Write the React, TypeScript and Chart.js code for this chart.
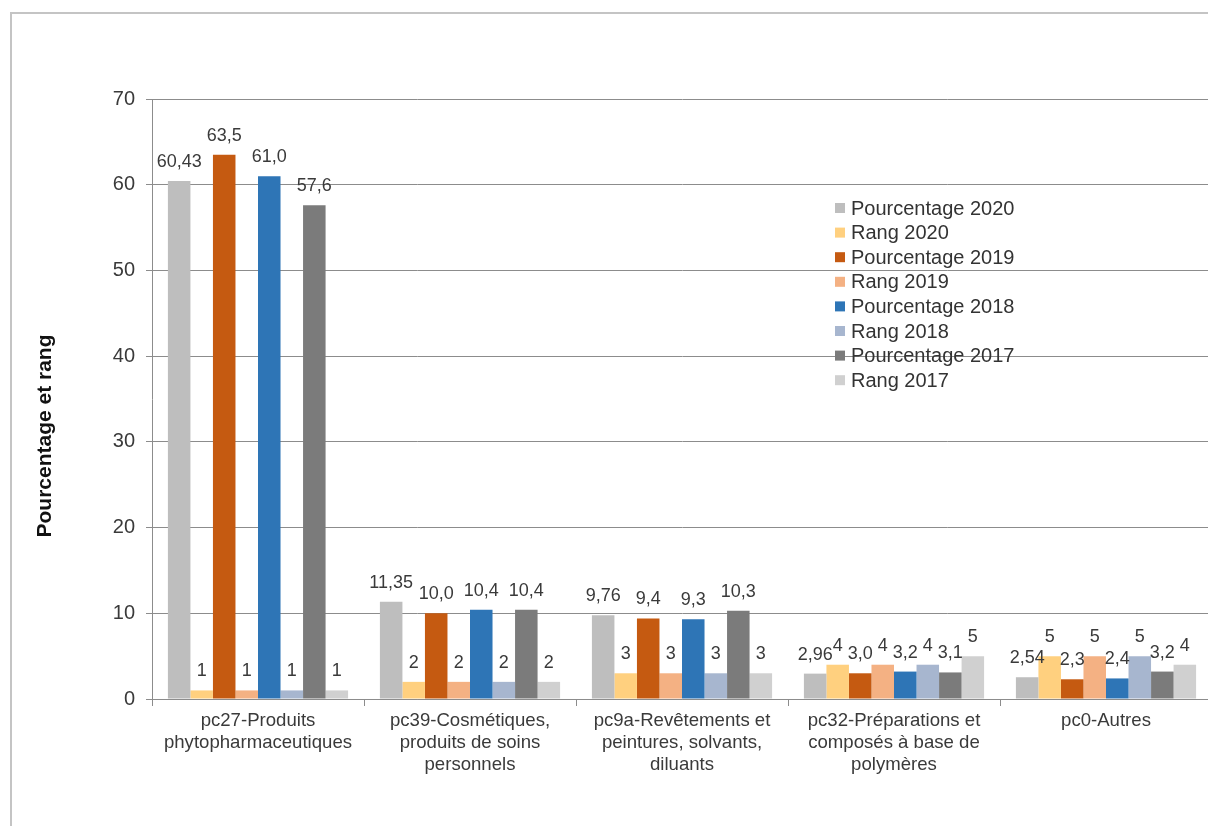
import React, { useEffect, useRef } from "react";
import { Chart, registerables } from "chart.js";

Chart.register(...registerables);

const categories: string[][] = [
  ["pc27-Produits", "phytopharmaceutiques"],
  ["pc39-Cosmétiques,", "produits de soins", "personnels"],
  ["pc9a-Revêtements et", "peintures, solvants,", "diluants"],
  ["pc32-Préparations et", "composés à base de", "polymères"],
  ["pc0-Autres"],
];

const pourcentage2020 = [60.43, 11.35, 9.76, 2.96, 2.54];
const rang2020 = [1, 2, 3, 4, 5];
const pourcentage2019 = [63.5, 10.0, 9.4, 3.0, 2.3];
const rang2019 = [1, 2, 3, 4, 5];
const pourcentage2018 = [61.0, 10.4, 9.3, 3.2, 2.4];
const rang2018 = [1, 2, 3, 4, 5];
const pourcentage2017 = [57.6, 10.4, 10.3, 3.1, 3.2];
const rang2017 = [1, 2, 3, 5, 4];

const seriesNames = [
  "Pourcentage 2020",
  "Rang 2020",
  "Pourcentage 2019",
  "Rang 2019",
  "Pourcentage 2018",
  "Rang 2018",
  "Pourcentage 2017",
  "Rang 2017",
];
const seriesDecimals = [2, 0, 1, 0, 1, 0, 1, 0];
const seriesColors = [
  "#BEBEBE",
  "#FFD07F",
  "#C55A11",
  "#F4B183",
  "#2E75B6",
  "#A7B6CF",
  "#7B7B7B",
  "#D0D0D0",
];

const yTitle = "Pourcentage et rang";
const yMin = 0;
const yMax = 70;
const yStep = 10;

const FONT = '"Liberation Sans", Arial, sans-serif';
const TEXT = "#3A3A3A";
const GRID = "#8C8C8C";

const dataLabelPlugin = {
  id: "dataLabels",
  afterDatasetsDraw(chart: any) {
    const ctx = chart.ctx;
    ctx.save();
    ctx.font = `18px ${FONT}`;
    ctx.fillStyle = TEXT;
    ctx.textAlign = "center";
    ctx.textBaseline = "alphabetic";
    chart.data.datasets.forEach((ds: any, i: number) => {
      const meta = chart.getDatasetMeta(i);
      meta.data.forEach((bar: any, j: number) => {
        const v = ds.data[j] as number;
        const txt = v.toFixed(seriesDecimals[i]).replace(".", ",");
        ctx.fillText(txt, bar.x, bar.y - 14);
      });
    });
    ctx.restore();
  },
};

const legendPlugin = {
  id: "customLegend",
  afterDraw(chart: any) {
    const ctx = chart.ctx;
    ctx.save();
    ctx.font = `20px ${FONT}`;
    ctx.textBaseline = "middle";
    ctx.textAlign = "left";
    const x0 = 835;
    const y0 = 208;
    const step = 24.6;
    chart.data.datasets.forEach((ds: any, i: number) => {
      const y = y0 + i * step;
      ctx.fillStyle = ds.backgroundColor;
      ctx.fillRect(x0, y - 5, 10, 10);
      ctx.fillStyle = "#333333";
      ctx.fillText(ds.label, x0 + 16, y + 1);
    });
    ctx.restore();
  },
};

const yTitlePlugin = {
  id: "yTitle",
  afterDraw(chart: any) {
    const ctx = chart.ctx;
    ctx.save();
    ctx.translate(45, 436);
    ctx.rotate(-Math.PI / 2);
    ctx.font = `bold 21px ${FONT}`;
    ctx.fillStyle = "#111111";
    ctx.textAlign = "center";
    ctx.textBaseline = "middle";
    ctx.fillText(yTitle, 0, 0);
    ctx.restore();
  },
};

export default function App() {
  const canvasRef = useRef<HTMLCanvasElement | null>(null);

  useEffect(() => {
    if (!canvasRef.current) return;
    const seriesData = [
      pourcentage2020,
      rang2020,
      pourcentage2019,
      rang2019,
      pourcentage2018,
      rang2018,
      pourcentage2017,
      rang2017,
    ];
    const chart = new Chart(canvasRef.current, {
      type: "bar",
      data: {
        labels: categories,
        datasets: seriesData.map((d, i) => ({
          label: seriesNames[i],
          data: d,
          backgroundColor: seriesColors[i],
          borderWidth: 0,
          barPercentage: 1,
          categoryPercentage: 0.85,
        })),
      },
      options: {
        animation: false,
        responsive: false,
        maintainAspectRatio: false,
        layout: { padding: { top: 99, right: 18, bottom: 0, left: 0 } },
        plugins: {
          legend: { display: false },
          tooltip: { enabled: false },
          title: { display: false },
        },
        scales: {
          x: {
            grid: {
              display: true,
              offset: true,
              drawOnChartArea: false,
              drawTicks: true,
              tickLength: 7,
              color: GRID,
            },
            border: { display: true, color: GRID, width: 1 },
            ticks: {
              color: TEXT,
              font: { family: FONT, size: 18.6, lineHeight: "22px" },
              padding: 4,
              maxRotation: 0,
              minRotation: 0,
              autoSkip: false,
            },
            afterFit: (scale: any) => {
              scale.height = 127;
            },
          },
          y: {
            min: yMin,
            max: yMax,
            grid: {
              color: GRID,
              drawTicks: true,
              tickLength: 6,
            },
            border: { display: true, color: GRID, width: 1 },
            ticks: {
              stepSize: yStep,
              color: TEXT,
              font: { family: FONT, size: 20 },
              padding: 11,
            },
            afterFit: (scale: any) => {
              scale.width = 152;
            },
          },
        },
      },
      plugins: [dataLabelPlugin, legendPlugin, yTitlePlugin],
    });
    return () => chart.destroy();
  }, []);

  return (
    <div
      style={{
        position: "fixed",
        left: 0,
        top: 0,
        width: 1208,
        height: 826,
        overflow: "hidden",
        background: "#ffffff",
      }}
    >
      <div
        style={{
          position: "absolute",
          left: 10,
          top: 12,
          width: 1300,
          height: 900,
          border: "2px solid #c4c4c4",
        }}
      />
      <canvas
        ref={canvasRef}
        width={1230}
        height={826}
        style={{ position: "absolute", left: 0, top: 0, width: 1230, height: 826 }}
      />
    </div>
  );
}
